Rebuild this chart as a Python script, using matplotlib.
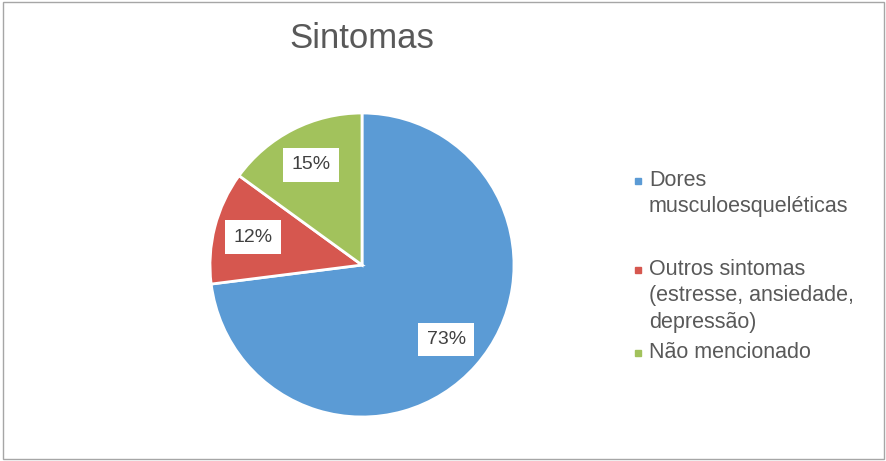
import matplotlib.pyplot as plt
from matplotlib.patches import Rectangle

# data
categorias = ["Dores\nmusculoesqueléticas",
              "Outros sintomas\n(estresse, ansiedade,\ndepressão)",
              "Não mencionado"]
valores = [73, 12, 15]
cores = ["#5B9BD5", "#D6574F", "#A2C25C"]

plt.rcParams['font.family'] = ['Liberation Sans', 'DejaVu Sans']
fig = plt.figure(figsize=(8.87, 4.61), dpi=100)

# frame around the chart
fig.patches.append(Rectangle((0.003, 0.005), 0.994, 0.99, transform=fig.transFigure,
                             fill=False, edgecolor="#A6A6A6", linewidth=1))

fig.text(362/887, 1 - 38/461, "Sintomas", ha="center", va="center",
         fontsize=25, color="#595959")

ax = fig.add_axes([210/887, 44/461, 304/887, 304/461])
wedges, texts, autotexts = ax.pie(valores, colors=cores, startangle=90, counterclock=False,
                                  autopct="%1.0f%%", pctdistance=0.74,
                                  wedgeprops=dict(edgecolor="white", linewidth=2),
                                  textprops=dict(fontsize=14, color="#404040"))
for t in autotexts:
    t.set_bbox(dict(facecolor="white", edgecolor="none", pad=6))
ax.set_xlim(-1, 1)
ax.set_ylim(-1, 1)
ax.set_aspect("equal")

# legend (marker aligned with first line, like Excel)
leg_y = [181, 270, 353]
for lab, cor, y in zip(categorias, cores, leg_y):
    fig.patches.append(Rectangle((635/887, 1 - (y + 3)/461), 6/887, 6/461,
                                 transform=fig.transFigure, color=cor))
    fig.text(649/887, 1 - (y - 11)/461, lab, ha="left", va="top", fontsize=15.5,
             color="#595959", linespacing=1.33)

fig.savefig("out.png", dpi=100)
